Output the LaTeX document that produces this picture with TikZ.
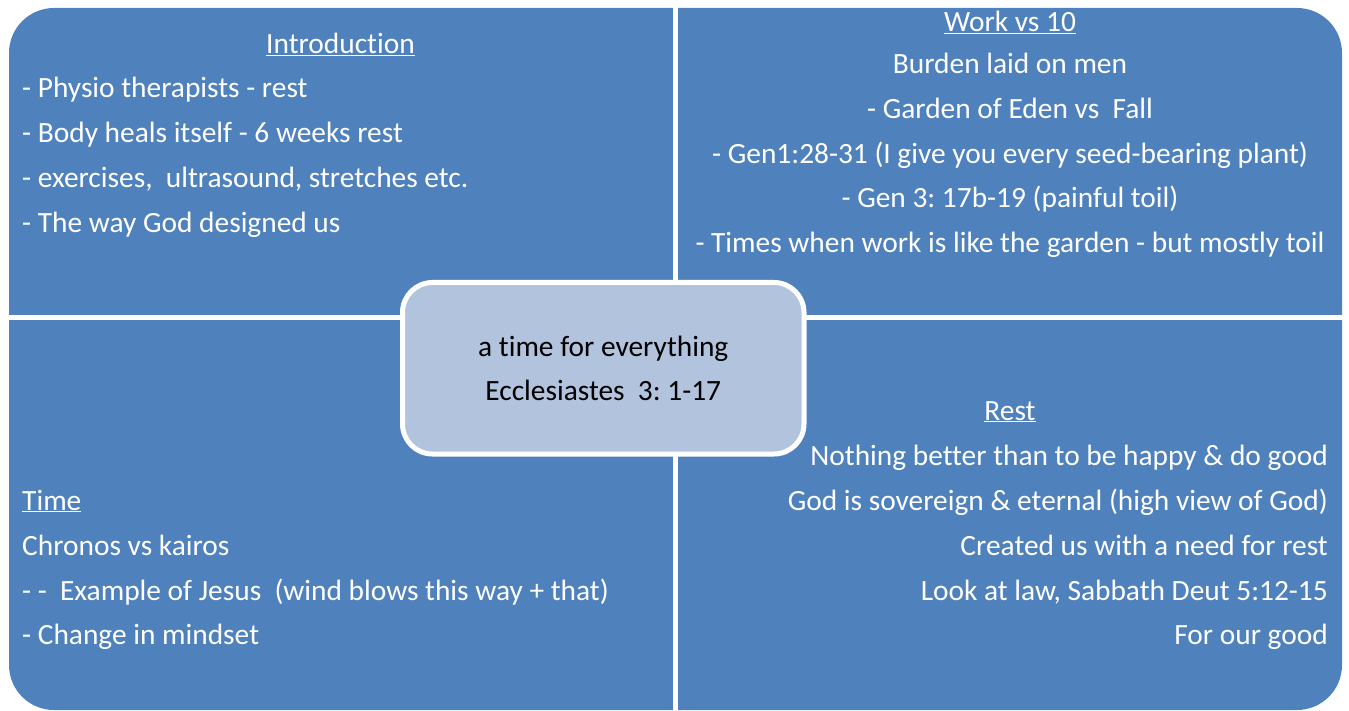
\documentclass[tikz,border=0pt]{standalone}
\usepackage{fontspec}
\setmainfont{Carlito}[Ligatures=NoCommon]
\frenchspacing
\usetikzlibrary{positioning}
\definecolor{quadblue}{HTML}{4F81BD}
\definecolor{hubblue}{HTML}{B2C3DE}

\begin{document}
\begin{tikzpicture}[x=1pt,y=-1pt,
  txt/.style={text=white,font=\fontsize{29.4}{35}\selectfont,inner sep=0pt},
  lft/.style={txt,anchor=base west},
  mid/.style={txt,anchor=base},
  rgt/.style={txt,anchor=base east},
  hub/.style={draw=white,line width=5pt,fill=hubblue,rounded corners=30pt,
    minimum width=401.5pt,minimum height=171.5pt,align=center,
    font=\fontsize{29.4}{44}\selectfont}]
\useasboundingbox (0,0) rectangle (1349,711);

% quadrants and white gaps
\fill[quadblue,rounded corners=45pt] (9,8) rectangle (1342,710);
\fill[white] (672.5,0) rectangle (678,711);
\fill[white] (0,315) rectangle (1349,320);

% top left
\node[mid] (intro) at (340.5,54) {\underline{Introduction}};
\node[lft] (intro1) at (22,98) {- Physio therapists - rest};
\node[lft] (intro2) at (22,143) {- Body heals itself - 6 weeks rest};
\node[lft] (intro3) at (22,188) {- exercises,\ \ ultrasound, stretches etc.};
\node[lft] (intro4) at (22,233) {- The way God designed us};

% top right
\node[mid] (work) at (1010,32) {\underline{Work vs 10}};
\node[mid] (work1) at (1010,74) {Burden laid on men};
\node[mid] (work2) at (1010,119) {- Garden of Eden vs\ \ Fall};
\node[mid] (work3) at (1010,164) {- Gen1:28-31 (I give you every seed-bearing plant)};
\node[mid] (work4) at (1010,208) {- Gen 3: 17b-19 (painful toil)};
\node[mid] (work5) at (1010,253) {- Times when work is like the garden - but mostly toil};

% bottom left
\node[lft] (time) at (22,510) {\underline{Time}};
\node[lft] (time1) at (22,555) {Chronos vs kairos};
\node[lft] (time2) at (22,600) {- -\ \ Example of Jesus\ \ (wind blows this way + that)};
\node[lft] (time3) at (22,644) {- Change in mindset};

% bottom right
\node[mid] (rest) at (1010,420) {\underline{Rest}};
\node[rgt] (rest1) at (1328,465) {Nothing better than to be happy \& do good};
\node[rgt] (rest2) at (1328,510) {God is sovereign \& eternal (high view of God)};
\node[rgt] (rest3) at (1328,555) {Created us with a need for rest};
\node[rgt] (rest4) at (1328,600) {Look at law, Sabbath Deut 5:12-15};
\node[rgt] (rest5) at (1328,644) {For our good};

% centre
\node[hub] (centre) at (603.25,368.25) {a time for everything\\Ecclesiastes\ \ 3: 1-17};
\end{tikzpicture}
\end{document}
